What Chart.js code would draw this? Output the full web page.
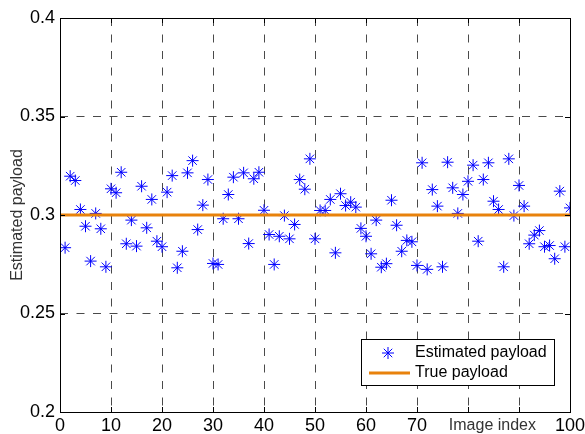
<!DOCTYPE html>
<html>
<head>
<meta charset="utf-8">
<script src="https://cdn.jsdelivr.net/npm/chart.js@4.4.1/dist/chart.umd.min.js"></script>
<style>
  html, body { margin: 0; padding: 0; background: #fff; }
  canvas { display: block; }
</style>
</head>
<body>
<canvas id="payloadChart" width="585" height="434"></canvas>
<script>
// data
const imageIndex = [
  1, 2, 3, 4, 5, 6, 7, 8, 9, 10,
  11, 12, 13, 14, 15, 16, 17, 18, 19, 20,
  21, 22, 23, 24, 25, 26, 27, 28, 29, 30,
  31, 32, 33, 34, 35, 36, 37, 38, 39, 40,
  41, 42, 43, 44, 45, 46, 47, 48, 49, 50,
  51, 52, 53, 54, 55, 56, 57, 58, 59, 60,
  61, 62, 63, 64, 65, 66, 67, 68, 69, 70,
  71, 72, 73, 74, 75, 76, 77, 78, 79, 80,
  81, 82, 83, 84, 85, 86, 87, 88, 89, 90,
  91, 92, 93, 94, 95, 96, 97, 98, 99, 100
];
const estimatedPayload = [
  0.2834, 0.3197, 0.3175, 0.3028, 0.2943, 0.2766, 0.3008, 0.2930, 0.2737, 0.3133,
  0.3113, 0.3217, 0.2854, 0.2974, 0.2842, 0.3146, 0.2935, 0.3079, 0.2867, 0.2839,
  0.3116, 0.3200, 0.2732, 0.2816, 0.3214, 0.3276, 0.2926, 0.3050, 0.3180, 0.2754,
  0.2749, 0.2981, 0.3104, 0.3192, 0.2981, 0.3214, 0.2855, 0.3184, 0.3217, 0.3024,
  0.2901, 0.2749, 0.2892, 0.2997, 0.2879, 0.2952, 0.3180, 0.3131, 0.3285, 0.2879,
  0.3023, 0.3023, 0.3079, 0.2808, 0.3108, 0.3048, 0.3065, 0.3040, 0.2932, 0.2892,
  0.2803, 0.2974, 0.2735, 0.2753, 0.3075, 0.2948, 0.2816, 0.2871, 0.2864, 0.2744,
  0.3265, 0.2724, 0.3129, 0.3045, 0.2737, 0.3268, 0.3138, 0.3008, 0.3104, 0.3171,
  0.3253, 0.2867, 0.3180, 0.3265, 0.3070, 0.3028, 0.2737, 0.3285, 0.2997, 0.3150,
  0.3045, 0.2854, 0.2898, 0.2921, 0.2839, 0.2845, 0.2778, 0.3121, 0.2839, 0.3036
];
const trueX = [0, 100];
const truePayload = [0.3, 0.3];

const xTickValues = [0, 10, 20, 30, 40, 50, 60, 70, 80, 90, 100];
const xHiddenLabels = [80, 90]; // covered by the "Image index" text
const yTickValues = [0.2, 0.25, 0.3, 0.35, 0.4];

const FONT = "'Liberation Sans', Arial, Helvetica, sans-serif";
const BLUE = "#0000ff";
const ORANGE = "#e8820c";
const GRID = "#4a4a4a";

// inward tick marks + solid box like the matlab axes
const axesBox = {
  id: "axesBox",
  afterDraw(chart) {
    const { ctx, chartArea: a, scales: { x, y } } = chart;
    ctx.save();
    ctx.strokeStyle = "#000";
    ctx.lineWidth = 1;
    ctx.beginPath();
    xTickValues.forEach(v => {
      const px = Math.round(x.getPixelForValue(v)) + 0.5;
      ctx.moveTo(px, a.bottom); ctx.lineTo(px, a.bottom - 5);
      ctx.moveTo(px, a.top); ctx.lineTo(px, a.top + 5);
    });
    yTickValues.forEach(v => {
      const py = Math.round(y.getPixelForValue(v)) + 0.5;
      ctx.moveTo(a.left, py); ctx.lineTo(a.left + 5, py);
      ctx.moveTo(a.right, py); ctx.lineTo(a.right - 5, py);
    });
    ctx.stroke();
    ctx.strokeRect(a.left + 0.5, a.top + 0.5, a.right - a.left, a.bottom - a.top);

    // x label sits in the tick row, where 80 and 90 would be
    ctx.fillStyle = "#333";
    ctx.font = "16px " + FONT;
    ctx.textAlign = "right";
    ctx.textBaseline = "alphabetic";
    ctx.fillText("Image index", a.right - 34, a.bottom + 18);
    ctx.restore();
  }
};

// legend box in the lower right corner of the axes
const boxLegend = {
  id: "boxLegend",
  afterDraw(chart) {
    const { ctx, chartArea: a } = chart;
    const ds = chart.data.datasets;
    const bx = a.right - 209, by = a.bottom - 73;
    ctx.save();
    ctx.fillStyle = "#fff";
    ctx.fillRect(bx, by, 193, 46);
    ctx.strokeStyle = "#000";
    ctx.lineWidth = 1;
    ctx.strokeRect(bx + 0.5, by + 0.5, 193, 46);

    ctx.strokeStyle = BLUE;
    ctx.fillStyle = BLUE;
    Chart.helpers.drawPoint(ctx, { pointStyle: "star", radius: 6, borderWidth: 1 }, bx + 27, by + 14);

    ctx.strokeStyle = ORANGE;
    ctx.lineWidth = 3;
    ctx.beginPath();
    ctx.moveTo(bx + 8, by + 34);
    ctx.lineTo(bx + 49, by + 34);
    ctx.stroke();

    ctx.fillStyle = "#000";
    ctx.font = "16px " + FONT;
    ctx.textAlign = "left";
    ctx.textBaseline = "middle";
    ctx.fillText(ds[0].label, bx + 54, by + 14);
    ctx.fillText(ds[1].label, bx + 54, by + 34);
    ctx.restore();
  }
};

const ctx = document.getElementById("payloadChart").getContext("2d");
const payloadChart = new Chart(ctx, {
  type: "scatter",
  data: {
    datasets: [{
      label: "Estimated payload",
      data: imageIndex.map((v, i) => ({ x: v, y: estimatedPayload[i] })),
      pointStyle: "star",
      pointRadius: 6,
      pointBorderWidth: 1,
      borderColor: BLUE,
      backgroundColor: BLUE,
      order: 1
    }, {
      type: "line",
      label: "True payload",
      data: trueX.map((v, i) => ({ x: v, y: truePayload[i] })),
      borderColor: ORANGE,
      borderWidth: 3,
      pointRadius: 0,
      fill: false,
      order: 0
    }]
  },
  options: {
    responsive: false,
    animation: false,
    devicePixelRatio: 1,
    layout: { padding: { top: 18, right: 15, left: 0, bottom: 0 } },
    plugins: { legend: { display: false }, tooltip: { enabled: false } },
    scales: {
      x: {
        type: "linear",
        min: 0,
        max: 100,
        afterBuildTicks: s => { s.ticks = xTickValues.map(v => ({ value: v })); },
        afterFit: s => { s.height = 22; s.paddingLeft = 0; s.paddingRight = 0; },
        ticks: {
          color: "#000",
          font: { family: FONT, size: 18 },
          padding: 3,
          maxRotation: 0,
          autoSkip: false,
          callback: v => (xHiddenLabels.includes(v) ? "" : String(v))
        },
        grid: { color: GRID, lineWidth: 1, drawTicks: false },
        border: { display: false, dash: [8, 8.5] }
      },
      y: {
        min: 0.2,
        max: 0.4,
        afterBuildTicks: s => { s.ticks = yTickValues.map(v => ({ value: v })); },
        afterFit: s => { s.width = 60; s.paddingTop = 0; s.paddingBottom = 0; },
        ticks: {
          color: "#000",
          font: { family: FONT, size: 18 },
          padding: 5,
          autoSkip: false,
          callback: v => String(Number(v.toFixed(2)))
        },
        grid: { color: GRID, lineWidth: 1, drawTicks: false },
        border: { display: false, dash: [8, 8.5] },
        title: {
          display: true,
          text: "Estimated payload",
          color: "#333",
          font: { family: FONT, size: 16 },
          padding: { top: 8, bottom: 0 }
        }
      }
    }
  },
  plugins: [axesBox, boxLegend]
});
</script>
</body>
</html>
